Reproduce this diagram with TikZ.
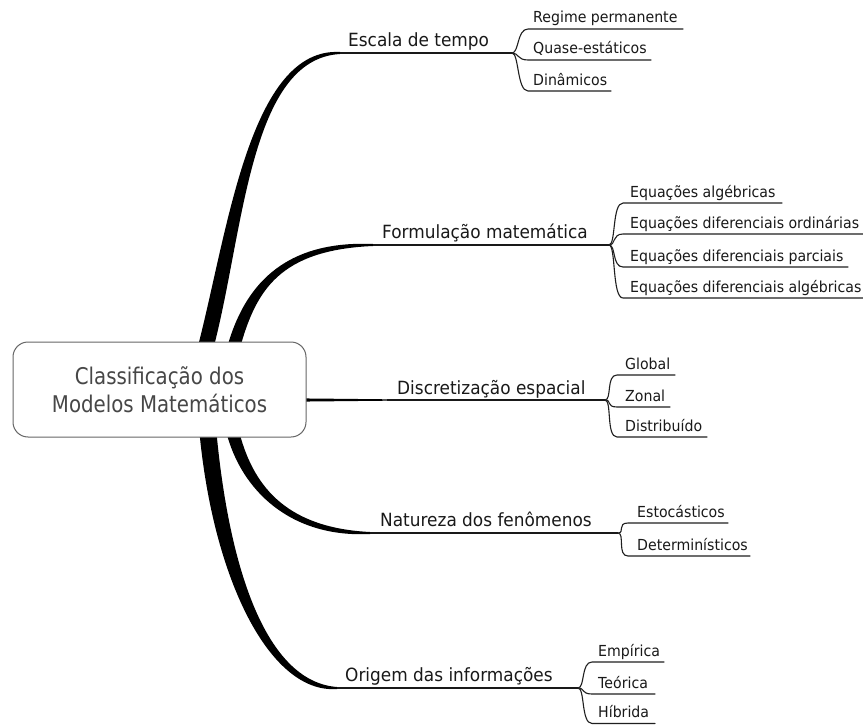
\documentclass[tikz,border=0pt]{standalone}
\usepackage{fontspec}
\usetikzlibrary{calc}
\newfontfamily\mapfont[FakeStretch=0.93]{DejaVu Sans}
\newfontfamily\corefont[FakeStretch=0.86]{DejaVu Sans}

% Tapered limb: #1 base, #2 control near base, #3 control near tip, #4 tip,
% #5 half width at base (horizontal), #6 half width near tip, #7 half width at tip
% (#6 and #7 positive for limbs rising to the tip, negative for falling ones)
\newcommand\taper[7]{%
  \pgfmathsetmacro\ctlA{-1*(#6)}%
  \pgfmathsetmacro\tipA{-1*(#7)}%
  \fill[limb] ($(#1)+(-#5,0)$) .. controls ($(#2)+(-#5,0)$) and ($(#3)+(0,\ctlA)$) .. ($(#4)+(0,\tipA)$)
     -- ($(#4)+(0,#7)$) .. controls ($(#3)+(0,#6)$) and ($(#2)+(#5,0)$) .. ($(#1)+(#5,0)$) -- cycle;}

% Leaf: #1 name, #2 fork, #3 x where the underline starts, #4 y of the underline,
% #5 x where the underline ends, #6 x of the text, #7 text
\newcommand\leaf[7]{%
  \coordinate (#1-a) at (#3,#4);
  \coordinate (#1-b) at (#5,#4);
  \node[leafnode] (#1) at (#6,#4-6) {#7};
  \draw[twig] (#2) .. controls +(7,0) and +(-11,0) .. (#1-a) -- (#1-b);}

\begin{document}
\begin{tikzpicture}[x=1pt,y=-1pt,
  core/.style={draw=black!60, line width=1pt, rounded corners=15pt, fill=white,
    minimum width=293pt, minimum height=95pt, inner sep=0pt, align=center,
    text=black!72, font=\corefont\fontsize{23}{28}\selectfont},
  topic/.style={anchor=base west, inner sep=0pt, text=black!90,
    font=\mapfont\fontsize{18.2}{20}\selectfont},
  leafnode/.style={anchor=base west, inner sep=0pt, text=black!90,
    font=\mapfont\fontsize{15.2}{17}\selectfont},
  limb/.style={fill=black},
  stemline/.style={draw=black!90, line width=1.3pt},
  twig/.style={draw=black!88, line width=1.1pt, line cap=round},
]
\fill[white] (0,0) rectangle (863,725);
\useasboundingbox (0,0) rectangle (863,725);

% limbs from the central box
\coordinate (e0) at (206,346); \coordinate (e1) at (236,230);
\coordinate (e2) at (250,53);  \coordinate (e3) at (340,53);
\taper{e0}{e1}{e2}{e3}{8}{6}{1}

\coordinate (f0) at (234,346); \coordinate (f1) at (250,290);
\coordinate (f2) at (280,245); \coordinate (f3) at (373,245);
\taper{f0}{f1}{f2}{f3}{6.5}{5}{1}

\coordinate (n0) at (233,433); \coordinate (n1) at (248,490);
\coordinate (n2) at (290,533); \coordinate (n3) at (370,533);
\taper{n0}{n1}{n2}{n3}{6.5}{-5}{-1}

\coordinate (o0) at (208,433); \coordinate (o1) at (222,580);
\coordinate (o2) at (270,688); \coordinate (o3) at (337,688);
\taper{o0}{o1}{o2}{o3}{8.5}{-6}{-1}

\coordinate (d0) at (300,400); \coordinate (d3) at (387,400);
\fill[limb] ($(d0)+(0,-1.6)$) -- ($(d3)+(0,-0.7)$) -- ($(d3)+(0,0.7)$) -- ($(d0)+(0,1.6)$) -- cycle;

% central box
\node[core] (root) at (159.5,389.5) {Classificação dos\\Modelos Matemáticos};

% forks
\coordinate (ef) at (512,53);
\coordinate (ff) at (609,245);
\coordinate (df) at (605,400);
\coordinate (nf) at (618,533);
\coordinate (of) at (578,688);

\draw[stemline] (e3) -- (ef);
\draw[stemline] (f3) -- (ff);
\draw[stemline] (d3) -- (df);
\draw[stemline] (n3) -- (nf);
\draw[stemline] (o3) -- (of);

% topics
\node[topic] (escala)  at (348,47)  {Escala de tempo};
\node[topic] (formula) at (382,238) {Formulação matemática};
\node[topic] (discr)   at (397,394) {Discretização espacial};
\node[topic] (natur)   at (380,526) {Natureza dos fenômenos};
\node[topic] (origem)  at (345,681) {Origem das informações};

% leaves
\leaf{l11}{ef}{528}{29}{683}{533}{Regime permanente}
\leaf{l12}{ef}{528}{60}{651}{533}{Quase-estáticos}
\leaf{l13}{ef}{528}{91}{611}{533}{Dinâmicos}

\leaf{l21}{ff}{623}{203}{782}{630}{Equações algébricas}
\leaf{l22}{ff}{623}{234}{863}{630}{Equações diferenciais ordinárias}
\leaf{l23}{ff}{623}{267}{848}{630}{Equações diferenciais parciais}
\leaf{l24}{ff}{623}{298}{863}{630}{Equações diferenciais algébricas}

\leaf{l31}{df}{617}{375}{675}{625}{Global}
\leaf{l32}{df}{617}{407}{670}{625}{Zonal}
\leaf{l33}{df}{617}{437}{707}{625}{Distribuído}

\leaf{l41}{nf}{628}{523}{728}{637}{Estocásticos}
\leaf{l42}{nf}{628}{556}{750}{637}{Determinísticos}

\leaf{l51}{of}{592}{662}{664}{598}{Empírica}
\leaf{l52}{of}{592}{694}{655}{598}{Teórica}
\leaf{l53}{of}{592}{723.5}{655}{598}{Híbrida}
\end{tikzpicture}
\end{document}
